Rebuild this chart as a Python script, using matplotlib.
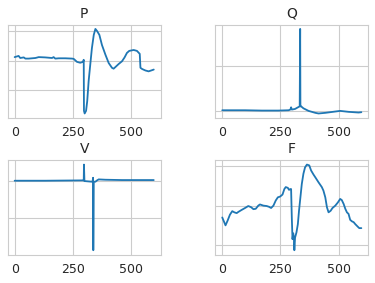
import matplotlib
matplotlib.use("Agg")
import matplotlib.pyplot as plt
import seaborn as sns

# values (y in arbitrary units, gridlines at integer steps)
p_x = [0, 17, 24, 39, 46, 60, 89, 103, 131, 160, 167, 174, 189, 217, 246, 253, 267, 281, 293, 296,
       297, 300, 306, 311, 317, 324, 331, 339, 346, 353, 363, 374, 389, 403, 417, 424, 431, 446,
       460, 471, 481, 491, 510, 524, 536, 539, 546, 560, 574, 589, 596]
p_y = [0.12, 0.16, 0.09, 0.11, 0.07, 0.07, 0.09, 0.12, 0.11, 0.09, 0.12, 0.07, 0.08, 0.08, 0.07, 0.06,
       -0.04, -0.07, -0.04, 0.03, -1.69, -1.78, -1.69, -1.36, -0.69, -0.13, 0.42, 0.87, 1.07, 1.0,
       0.87, 0.53, 0.2, -0.08, -0.24, -0.27, -0.22, -0.11, -0.02, 0.11, 0.26, 0.33, 0.36, 0.33, 0.23,
       -0.24, -0.28, -0.33, -0.36, -0.32, -0.3]

q_x = [0, 98, 170, 241, 285, 293, 296, 299, 313, 328, 333, 335, 336, 339, 349, 371, 400, 414, 443,
       486, 507, 543, 586, 598]
q_y = [0.014, 0.014, 0.007, 0.007, 0.014, 0.029, 0.079, 0.029, 0.043, 0.086, 0.1, 1.81, 0.1, 0.1,
       0.057, 0.0, -0.043, -0.057, -0.043, -0.014, 0.0, -0.021, -0.036, -0.029]

v_x = [0, 131, 293, 296, 297, 299, 331, 334, 336, 337, 339, 346, 353, 360, 389, 460, 596]
v_y = [1.009, 1.009, 1.018, 1.018, 1.45, 1.0, 0.982, 0.982, 1.09, -0.89, 0.982, 0.982, 1.018,
       1.045, 1.036, 1.027, 1.027]

f_x = [0, 7, 14, 23, 33, 43, 52, 62, 69, 83, 98, 112, 124, 134, 144, 155, 162, 177, 191, 201, 210,
       220, 230, 239, 249, 259, 267, 273, 282, 287, 293, 296, 299, 302, 305, 308, 310, 313, 319,
       325, 330, 336, 342, 349, 356, 364, 374, 382, 392, 402, 414, 428, 435, 443, 450, 457, 466,
       474, 486, 497, 507, 514, 522, 529, 536, 543, 550, 558, 565, 572, 582, 589, 598]
f_y = [-0.30, -0.40, -0.50, -0.38, -0.23, -0.14, -0.17, -0.19, -0.16, -0.11, -0.06, -0.01, -0.04,
       -0.09, -0.08, 0.0, 0.03, 0.0, -0.01, -0.03, -0.06, 0.0, 0.13, 0.21, 0.23, 0.28, 0.42, 0.47,
       0.45, 0.40, 0.42, 0.42, -0.30, -0.85, -0.70, -0.81, -1.13, -0.81, -0.68, -0.47, -0.13, 0.21,
       0.55, 0.81, 0.97, 1.04, 1.02, 0.89, 0.79, 0.70, 0.59, 0.47, 0.38, 0.21, -0.04, -0.17, -0.13,
       -0.06, 0.0, 0.08, 0.17, 0.14, 0.04, -0.08, -0.17, -0.21, -0.36, -0.40, -0.42, -0.47, -0.53,
       -0.57, -0.57]

titles = ["P", "Q", "V", "F"]
x_ticks = [0, 250, 500]
y_grids = [[-1, 0, 1], [0, 1], [0, 1], [-1, 0, 1]]

sns.set_style("whitegrid")
plt.rcParams['font.family'] = ['DejaVu Sans']

fig = plt.figure(figsize=(3.75, 2.83), dpi=100)
W, H = 375.0, 283.0
# axes boxes in pixels: left, top, right, bottom
boxes = [(7.7, 24.7, 160.7, 117.7), (215.3, 24.7, 368.3, 117.7),
         (7.7, 160.3, 160.7, 254.5), (215.3, 160.3, 368.3, 254.5)]
series = [(p_x, p_y), (q_x, q_y), (v_x, v_y), (f_x, f_y)]

for i in range(4):
    l, t, r, b = boxes[i]
    ax = fig.add_axes([l / W, (H - b) / H, (r - l) / W, (b - t) / H])
    ax.plot(series[i][0], series[i][1], color='#1f77b4', linewidth=1.3)
    ax.set_title(titles[i], fontsize=10, color='.15', pad=5)
    ax.set_xticks(x_ticks)
    ax.set_yticks(y_grids[i])
    ax.set_yticklabels([])
    ax.tick_params(axis='x', labelsize=9, pad=6, colors='.15', length=0)
    ax.tick_params(axis='y', length=0)

fig.savefig("out.png", dpi=100)
